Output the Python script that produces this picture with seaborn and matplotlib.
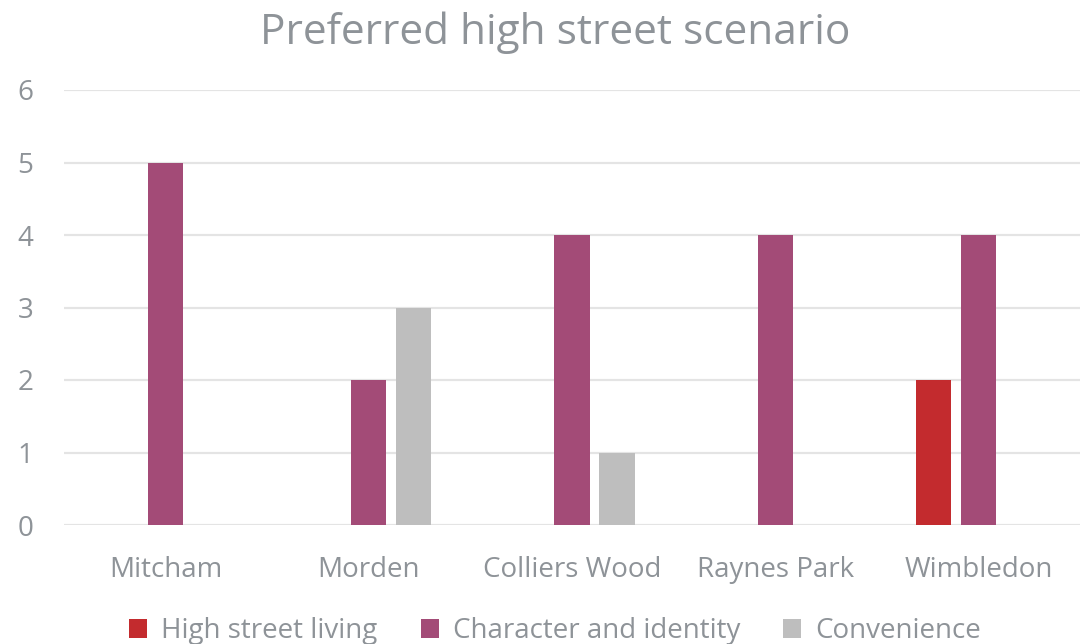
import matplotlib
matplotlib.use("Agg")
import matplotlib.pyplot as plt
import seaborn as sns
import pandas as pd

# Survey results: preferred high street scenario by town centre
towns = ["Mitcham", "Morden", "Colliers Wood", "Raynes Park", "Wimbledon"]
scenarios = ["High street living", "Character and identity", "Convenience"]
high_street_living = [0, 0, 0, 0, 2]
character_and_identity = [5, 2, 4, 4, 4]
convenience = [0, 3, 1, 0, 0]
y_ticks = [0, 1, 2, 3, 4, 5, 6]

colors = ["#C32B2E", "#A34B77", "#BEBEBE"]
text_color = "#8E9398"
grid_color = "#E4E4E4"

rows = []
for series_name, values in zip(scenarios, [high_street_living, character_and_identity, convenience]):
    for town, v in zip(towns, values):
        rows.append({"Town": town, "Scenario": series_name, "Count": v})
df = pd.DataFrame(rows)

sns.set_theme(style="white")
plt.rcParams["font.family"] = ["Open Sans", "DejaVu Sans"]

fig = plt.figure(figsize=(10.82, 6.44), dpi=100)
ax = fig.add_axes([64 / 1082, 1 - 525 / 644, 1016 / 1082, 435 / 644])

sns.barplot(
    data=df, x="Town", y="Count", hue="Scenario",
    order=towns, hue_order=scenarios, palette=colors,
    width=0.665, gap=0.22, saturation=1, linewidth=0,
    errorbar=None, ax=ax,
)

ax.set_ylim(0, 6)
ax.set_xlim(-0.5, len(towns) - 0.5)
ax.set_yticks(y_ticks)
ax.yaxis.grid(True, color=grid_color, linewidth=1.6)
ax.set_axisbelow(True)
for s in ax.spines.values():
    s.set_visible(False)
ax.set_xlabel("")
ax.set_ylabel("")
ax.tick_params(axis="y", length=0, pad=22, labelsize=20, labelcolor=text_color)
ax.tick_params(axis="x", length=0, pad=22, labelsize=20, labelcolor=text_color)

fig.text(555 / 1082, 1 - 44 / 644, "Preferred high street scenario",
         ha="center", va="baseline", fontsize=30.5, color=text_color)

handles, labels = ax.get_legend_handles_labels()
ax.get_legend().remove()
fig.legend(handles, labels, loc="center", bbox_to_anchor=(555 / 1082, 1 - 631 / 644),
           ncol=3, frameon=False, fontsize=20, labelcolor=text_color,
           handlelength=0.65, handleheight=0.65, handletextpad=0.5, columnspacing=1.55,
           borderaxespad=0, borderpad=0)

fig.savefig("out.png", dpi=100)
